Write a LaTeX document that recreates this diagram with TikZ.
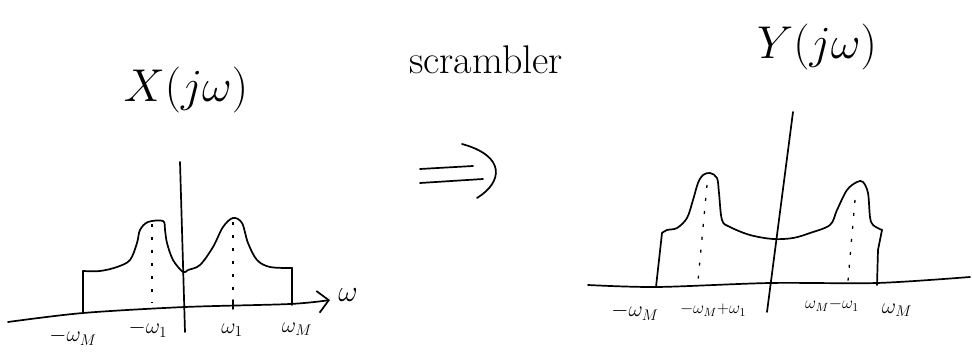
\RequirePackage{fix-cm}
\documentclass[tikz,border=0pt]{standalone}
\usepackage{amsmath,amssymb}
\usepackage{xcolor}
\usetikzlibrary{arrows.meta}
\tikzset{
  ink/.style={line width=1.7pt,black,line cap=round,line join=round},
  guide/.style={line width=1.3pt,black,dash pattern=on 3pt off 10pt},
  lbl/.style={font=\fontsize{22}{24}\selectfont,inner sep=0pt},
  sml/.style={font=\fontsize{17}{19}\selectfont,inner sep=0pt},
  ttl/.style={font=\fontsize{46}{50}\selectfont,inner sep=0pt}
}
\begin{document}
\begin{tikzpicture}[x=1pt,y=-1pt]
\useasboundingbox (0,0) rectangle (972,355);
\node[ttl] (xt) at (186,90) {$X(j\omega)$};
\node[ttl] (yt) at (817,47) {$Y(j\omega)$};
\node[font=\fontsize{40}{44}\selectfont,inner sep=0pt] (scr) at (486,60) {scrambler};
\draw[ink,-{Straight Barb[length=11pt,width=22pt]}] plot[smooth] coordinates {(8,322) (83,313) (185,307) (290,304) (330,300)};
\draw[ink] (180,162) -- (185,332);
\draw[ink] (83,313) -- (83,271);
\draw[ink] plot[smooth,tension=0.55] coordinates {(83,271) (100,271) (117,267) (130,260) (137,243) (140,230) (148,222) (163,221) (165,230) (167,243) (173,260) (183,272) (188,270) (200,265) (213,247) (223,227) (233,218) (242,223) (248,243) (257,260) (270,267) (292,268)};
\draw[ink] (292,268) -- (292,305);
\draw[guide] (152,224) -- (152,303);
\draw[guide] (233,222) -- (233,303);
\draw[ink] (233,300) -- (233,309);
\node[font=\fontsize{30}{32}\selectfont,inner sep=0pt] (om) at (348,295) {$\omega$};
\foreach \n/\x/\y/\t in {a/73/337/-\omega_M, b/148/329/-\omega_1, c/232/330/\omega_1, d/297/329/\omega_M}{
  \node[lbl] (l\n) at (\x,\y) {$\t$};}
\coordinate (da) at (420,169);
\coordinate (db) at (420,183);
\draw[ink] (da) -- (473,166);
\draw[ink] (db) -- (483,179);
\draw[ink] (462,144) .. controls (506,156) and (503,182) .. (477,198);
\draw[ink] plot[smooth] coordinates {(588,285) (657,287) (770,283) (877,283) (970,277)};
\draw[ink] (793,112) -- (767,312);
\draw[ink] (656,287) -- (662,233);
\draw[ink] plot[smooth,tension=0.55] coordinates {(662,233) (667,230) (677,228) (687,218) (693,200) (698,183) (703,175) (710,173) (717,178) (719,193) (722,220) (730,227) (750,235) (773,239) (793,238) (810,233) (830,225) (837,210) (847,190) (857,182) (863,182) (868,193) (870,217) (873,225) (882,230)};
\draw[ink] (882,230) -- (878,250) -- (877,285);
\draw[guide] (707,185) -- (698,281);
\draw[guide] (855,200) -- (848,281);
\foreach \n/\x/\y/\t/\s in {e/635/312/-\omega_M/lbl, f/713/310/-\omega_M{+}\omega_1/sml, g/832/305/\omega_M{-}\omega_1/sml, h/897/310/\omega_M/lbl}{
  \node[\s] (r\n) at (\x,\y) {$\t$};}
\end{tikzpicture}
\end{document}
